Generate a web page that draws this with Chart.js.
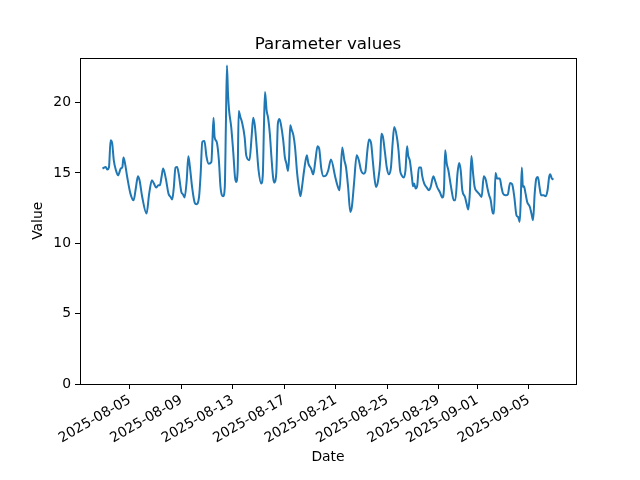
<!DOCTYPE html>
<html>
<head>
<meta charset="utf-8">
<script src="https://cdn.jsdelivr.net/npm/chart.js@4.4.1/dist/chart.umd.min.js"></script>
<style>
  html, body { margin: 0; padding: 0; background: #fff; }
  canvas { display: block; }
</style>
</head>
<body>
<canvas id="paramChart" width="640" height="480"></canvas>
<script>
// Hours counted from 2025-08-03 00:00 (UTC)
const startDate = Date.UTC(2025, 7, 3);

const hours = [
  -3, 3, 6, 9, 12, 15, 18, 22, 26, 31, 34, 36, 39, 43, 49, 55, 59, 63, 66, 71, 79, 84, 89, 93, 97, 101, 104, 107, 110, 115, 120,
  124, 127, 130, 133, 136, 139, 144, 147, 150, 154, 157, 160, 164, 169, 172, 177, 180, 183, 187, 191, 195, 200, 202, 204, 206, 210,
  214, 217, 222, 225, 227, 229, 231, 233, 237, 241, 244, 246, 249, 251, 254, 257, 262, 265,
  271, 275, 278, 281, 284, 288, 293, 296, 298, 300, 303, 306, 309, 312, 315, 317, 321, 324, 327, 330, 334, 337, 340, 343, 345,
  347, 350, 353, 356, 360, 363, 366, 369, 373, 378, 381, 386, 390, 394, 398, 401, 405,
  409, 414, 418, 423, 431, 435, 439, 444, 448, 451, 455, 459, 462, 466, 471, 475, 479, 484, 487, 491, 494, 498, 501, 504, 507,
  511, 515, 517, 520, 524, 527, 531, 535, 538, 541, 546,
  549, 552, 555, 559, 562, 565, 567, 570, 574, 576, 578, 581, 584, 587, 591, 593, 597, 601, 606, 609, 614, 617, 621, 626, 631,
  634, 636, 639, 642, 645, 648, 652, 655, 659, 662, 665, 668, 673, 676, 679, 682, 685,
  688, 691, 696, 699, 704, 708, 712, 715, 718, 721, 725, 727, 730, 733, 738, 741, 744, 749, 753, 757, 761, 765, 769, 772, 775,
  777, 779, 781, 783, 786, 789, 794, 797, 800, 803, 806, 809, 812, 815, 820, 823, 827, 830, 832, 835, 838
];

const values = [
  15.31, 15.42, 15.24, 15.40, 17.32, 17.08, 15.90, 15.19, 14.83, 15.31, 15.42, 16.09, 15.66, 14.71, 13.53, 13.06, 13.89, 14.76,
  14.48, 13.29, 12.11, 13.53, 14.48, 14.24, 13.96, 14.12, 14.12, 14.71, 15.31, 14.60, 13.53,
  13.29, 13.11, 14.00, 15.38, 15.42, 14.95, 13.65, 13.48, 13.25, 14.48, 16.18, 15.42, 14.00, 12.87, 12.78, 13.29, 14.95, 17.20,
  17.27, 16.13, 15.66, 15.78, 17.32, 18.93, 17.55, 17.20, 15.90, 14.00, 13.34, 14.00, 18.26, 22.64, 20.63, 19.45, 18.26, 16.37,
  14.71, 14.36, 15.19, 19.40, 18.97, 18.62, 17.55, 16.25,
  15.90, 17.55, 18.93, 18.38, 17.08, 15.19, 14.24, 14.95, 18.26, 20.75, 19.45, 18.86, 17.79, 16.13, 14.71, 14.31, 14.95, 18.50,
  18.83, 18.38, 17.32, 16.13, 15.66, 15.14, 16.13, 18.38, 18.03, 17.67, 16.84, 14.95, 14.00, 13.34, 14.00, 15.19, 16.25, 15.66,
  15.31, 14.90, 15.90, 16.89, 16.73, 15.30,
  14.76, 14.83, 15.19, 15.95, 14.71, 14.12, 13.77, 16.80, 15.90, 15.42, 14.00, 12.23, 12.58, 14.24, 16.25, 15.90, 15.19, 14.95,
  15.07, 16.61, 17.37, 17.08, 15.90, 14.71, 14.00, 14.48, 15.90, 17.79, 17.55, 16.37, 15.42, 14.90, 15.42, 17.08, 18.26, 17.55,
  16.61, 15.19, 14.83, 14.67, 15.19, 16.89, 16.25, 15.90, 14.71, 14.05, 14.24, 13.89, 14.12, 15.38, 15.38, 14.83, 14.24, 14.00,
  13.77, 14.00, 14.76, 14.48, 14.00, 13.65, 13.25, 14.00, 16.61, 15.66, 15.19, 14.48, 13.77, 13.06, 13.06, 14.95, 15.71, 15.19,
  13.77, 13.29, 12.82, 12.40, 13.53, 16.20,
  15.00, 14.00, 13.65, 13.53, 13.29, 14.76, 14.48, 13.89, 13.41, 13.06, 12.11, 12.11, 15.00, 14.60, 14.60, 14.00, 13.53, 13.41,
  13.48, 14.29, 14.19, 13.29, 11.99, 11.87, 11.52, 13.06, 15.38, 14.00, 14.05, 13.53, 12.94, 12.58, 12.11, 11.64, 13.53, 14.60,
  14.71, 14.00, 13.41, 13.41, 13.34, 13.77, 14.71, 14.90, 14.60, 14.53
];

const tickDates = ['2025-08-05', '2025-08-09', '2025-08-13', '2025-08-17', '2025-08-21',
                   '2025-08-25', '2025-08-29', '2025-09-01', '2025-09-05'];
const yTicks = [0, 5, 10, 15, 20];

const chartTitle = 'Parameter values';
const xTitle = 'Date';
const yTitle = 'Value';

function dateToHours(s) {
  return (Date.parse(s + 'T00:00:00Z') - startDate) / 3600000;
}
function hoursToDate(h) {
  return new Date(startDate + h * 3600000).toISOString().slice(0, 10);
}

// matplotlib-like 5% margins
const xLo = Math.min(...hours), xHi = Math.max(...hours);
const xPad = (xHi - xLo) * 0.05;
const vLo = Math.min(...values), vHi = Math.max(...values);
const yTop = vHi + (vHi - vLo) * 0.05;

const font = { family: '"DejaVu Sans", sans-serif', size: 13.9 };

// Box around the axes plus the title
const framePlugin = {
  id: 'frame',
  afterDraw(chart) {
    const { ctx, chartArea: a } = chart;
    ctx.save();
    ctx.strokeStyle = '#000';
    ctx.lineWidth = 1;
    ctx.strokeRect(Math.round(a.left) + 0.5, Math.round(a.top) + 0.5,
                   Math.round(a.right - a.left), Math.round(a.bottom - a.top));
    ctx.fillStyle = '#000';
    ctx.font = '16.7px "DejaVu Sans", sans-serif';
    ctx.textAlign = 'center';
    ctx.textBaseline = 'alphabetic';
    ctx.fillText(chartTitle, (a.left + a.right) / 2, a.top - 8.5);
    ctx.restore();
  }
};

const ctx = document.getElementById('paramChart').getContext('2d');
const paramChart = new Chart(ctx, {
  type: 'line',
  data: {
    datasets: [{
      label: yTitle,
      data: hours.map((h, i) => ({ x: h, y: values[i] })),
      borderColor: '#1f77b4',
      borderWidth: 2,
      pointRadius: 0,
      cubicInterpolationMode: 'monotone',
      fill: false
    }]
  },
  options: {
    responsive: false,
    animation: false,
    layout: { padding: { top: 57.6, right: 64, left: 0, bottom: 0 } },
    plugins: {
      legend: { display: false },
      title: { display: false },
      tooltip: { enabled: false }
    },
    scales: {
      x: {
        type: 'linear',
        min: xLo - xPad,
        max: xHi + xPad,
        afterFit: s => { s.height = 96; },
        afterBuildTicks: s => { s.ticks = tickDates.map(d => ({ value: dateToHours(d) })); },
        ticks: {
          autoSkip: false,
          minRotation: 30,
          maxRotation: 30,
          padding: 3,
          color: '#000',
          font: font,
          callback: v => hoursToDate(v)
        },
        grid: { drawOnChartArea: false, drawTicks: true, tickLength: 5, color: '#000' },
        border: { display: false },
        title: { display: true, text: xTitle, color: '#000', font: font, padding: { top: 0, bottom: 14 } }
      },
      y: {
        min: 0,
        max: yTop,
        afterFit: s => { s.width = 80; },
        afterBuildTicks: s => { s.ticks = yTicks.map(v => ({ value: v })); },
        ticks: { padding: 4, color: '#000', font: font },
        grid: { drawOnChartArea: false, drawTicks: true, tickLength: 5, color: '#000' },
        border: { display: false },
        title: { display: true, text: yTitle, color: '#000', font: font, padding: { top: 30, bottom: 0 } }
      }
    }
  },
  plugins: [framePlugin]
});
</script>
</body>
</html>
